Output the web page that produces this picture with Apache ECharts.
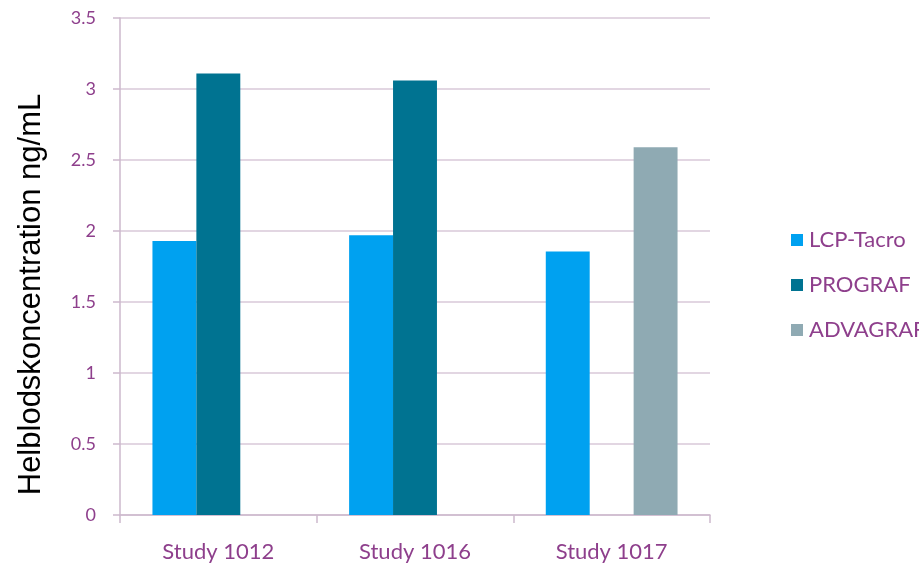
<!DOCTYPE html>
<html>
<head>
<meta charset="utf-8">
<script src="https://cdn.jsdelivr.net/npm/echarts@6/dist/echarts.min.js"></script>
<style>html,body{margin:0;padding:0;background:#fff}#c{width:919px;height:569px}</style>
</head>
<body>
<div id="c"></div>
<script>
var categories = ['Study 1012', 'Study 1016', 'Study 1017'];
var lcpTacro = [1.93, 1.97, 1.855];
var prograf = [3.11, 3.06, null];
var advagraf = [null, null, 2.59];
var yTicks = [0, 0.5, 1, 1.5, 2, 2.5, 3, 3.5];
var yTitle = 'Helblodskoncentration ng/mL';

var labelColor = '#8e3f8c';
var lineColor = '#cdb9cd';
var font = 'Lato';

var chart = echarts.init(document.getElementById('c'));
chart.setOption({
  animation: false,
  backgroundColor: '#fff',
  grid: { left: 120, right: 209, top: 18, bottom: 54, containLabel: false },
  legend: {
    orient: 'vertical',
    left: 786,
    top: 224,
    itemWidth: 12,
    itemHeight: 12,
    itemGap: 23,
    icon: 'rect',
    textStyle: { color: labelColor, fontSize: 22, fontFamily: font, padding: [0, 0, 0, 1] },
    data: ['LCP-Tacro', 'PROGRAF', 'ADVAGRAF']
  },
  xAxis: {
    type: 'category',
    data: categories,
    axisLine: { lineStyle: { color: lineColor, width: 1.5 } },
    axisTick: { show: true, length: 8, lineStyle: { color: lineColor, width: 1.5 } },
    axisLabel: { color: labelColor, fontSize: 22, fontFamily: font, margin: 26 }
  },
  yAxis: {
    type: 'value',
    min: 0,
    max: 3.5,
    interval: 0.5,
    name: yTitle,
    nameLocation: 'middle',
    nameGap: 73,
    nameTextStyle: { color: '#000', fontSize: 31, fontFamily: 'Liberation Sans', padding: [0, 56, 0, 0] },
    axisLine: { show: true, lineStyle: { color: lineColor, width: 1.5 } },
    axisTick: { show: true, length: 7, lineStyle: { color: lineColor, width: 1.5 } },
    splitLine: { lineStyle: { color: '#d9c9d9', width: 1.5 } },
    axisLabel: {
      color: labelColor, fontSize: 18, fontFamily: font, margin: 24,
      formatter: function (v) { return yTicks.indexOf(v) >= 0 ? String(v) : ''; }
    }
  },
  series: [
    { name: 'LCP-Tacro', type: 'bar', data: lcpTacro, barGap: '0%', barCategoryGap: '33%', itemStyle: { color: '#00a1f0' } },
    { name: 'PROGRAF', type: 'bar', data: prograf, barGap: '0%', barCategoryGap: '33%', itemStyle: { color: '#007391' } },
    { name: 'ADVAGRAF', type: 'bar', data: advagraf, barGap: '0%', barCategoryGap: '33%', itemStyle: { color: '#8faab3' } }
  ]
});
</script>
</body>
</html>
